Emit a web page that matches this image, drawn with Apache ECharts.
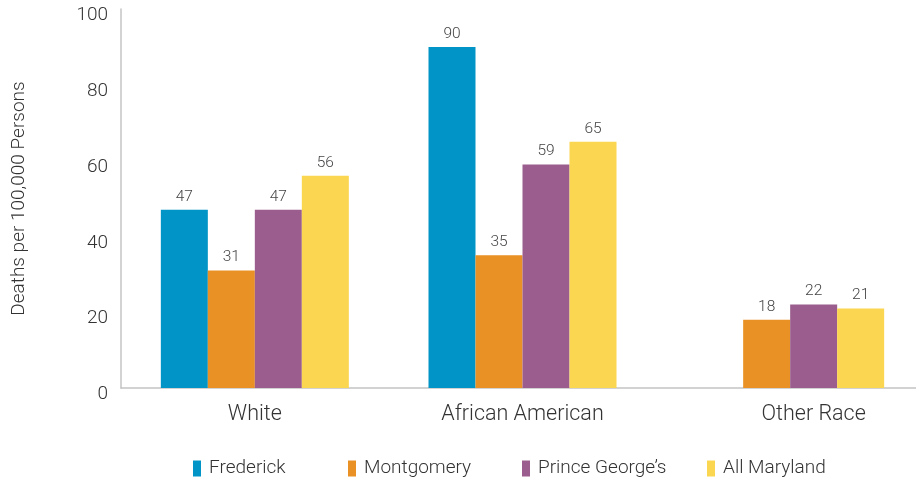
<!DOCTYPE html>
<html>
<head>
<meta charset="utf-8">
<script src="https://cdn.jsdelivr.net/npm/echarts@6/dist/echarts.min.js"></script>
<style>html,body{margin:0;padding:0;background:#fff;overflow:hidden;width:916px;height:485px;}#c{width:924px;height:485px;}</style>
</head>
<body>
<div id="c"></div>
<script>
const categories = ['White', 'African American', 'Other Race'];
const seriesNames = ['Frederick', 'Montgomery', "Prince George’s", 'All Maryland'];
const frederick = [47, 90, null];
const montgomery = [31, 35, 18];
const princeGeorges = [47, 59, 22];
const allMaryland = [56, 65, 21];
const yTicks = [0, 20, 40, 60, 80, 100];
const colors = ['#0095c6', '#e99125', '#9a5d8d', '#fbd650'];
const values = [frederick, montgomery, princeGeorges, allMaryland];

const FONT = 'Roboto, "Liberation Sans", sans-serif';
const legendLefts = [193, 348, 522, 707];

const chart = echarts.init(document.getElementById('c'), null, {renderer: 'canvas'});
chart.setOption({
  animation: false,
  textStyle: {fontFamily: FONT},
  legend: seriesNames.map((n, i) => ({
    data: [n],
    left: legendLefts[i],
    top: 459,
    icon: 'rect',
    itemWidth: 8,
    itemHeight: 16,
    itemGap: 0,
    padding: 0,
    textStyle: {fontSize: 19, color: '#333', fontFamily: FONT, fontWeight: 300, padding: [0, 0, 0, 3]}
  })),
  grid: {left: 121, right: 0, top: 9, bottom: 97, containLabel: false},
  xAxis: {
    type: 'category',
    data: categories.map((c, i) => i === 2 ? {value: c, textStyle: {padding: [0, 0, 0, 47]}} : c),
    axisLine: {show: true, lineStyle: {color: '#c4c4c4', width: 1.5}},
    axisTick: {show: false},
    axisLabel: {fontSize: 21.5, color: '#333', fontFamily: FONT, fontWeight: 300, margin: 16}
  },
  yAxis: {
    type: 'value',
    min: 0, max: 100, interval: 20,
    name: 'Deaths per 100,000 Persons',
    nameLocation: 'middle',
    nameRotate: 90,
    nameGap: 92,
    nameTextStyle: {fontSize: 19, color: '#333', fontFamily: FONT, fontWeight: 300},
    axisLine: {show: true, lineStyle: {color: '#c4c4c4', width: 1.5}},
    axisTick: {show: false},
    splitLine: {show: false},
    axisLabel: {
      fontSize: 19, color: '#333', fontFamily: FONT, fontWeight: 300, margin: 13,
      verticalAlign: 'top', lineHeight: 13,
      formatter: v => yTicks.includes(v) ? String(v) : ''
    }
  },
  series: seriesNames.map((n, i) => ({
    name: n,
    type: 'bar',
    data: values[i],
    barGap: 0,
    barWidth: 47,
    itemStyle: {color: colors[i]},
    label: {show: true, position: 'top', distance: 5, fontSize: 15.5, color: '#444', fontFamily: FONT, fontWeight: 300}
  }))
});
</script>
</body>
</html>
